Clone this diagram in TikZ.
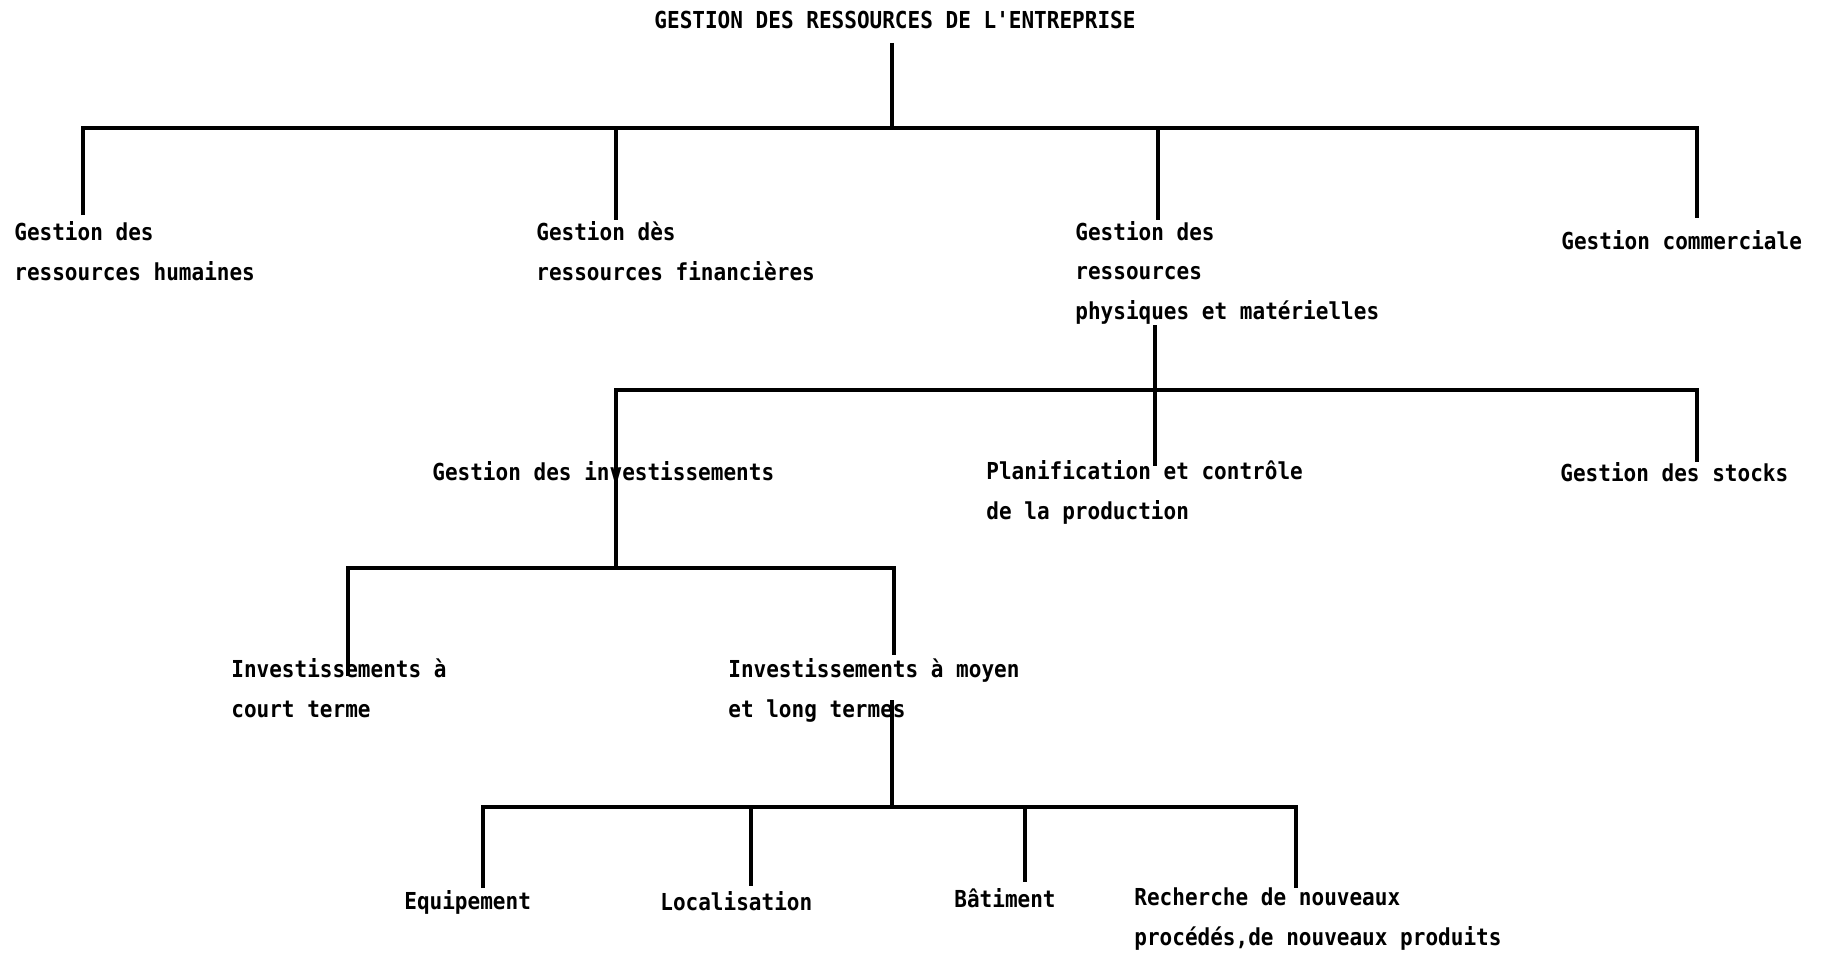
\documentclass[tikz,border=0pt]{standalone}
\usepackage{fontspec}
\setmonofont[FakeStretch=0.9]{DejaVu Sans Mono}
\usepackage{tikz}

\newcommand{\etiq}{\ttfamily\bfseries\fontsize{13.3}{22.4}\selectfont}
\tikzset{
	lbl/.style={font=\etiq,align=left,anchor=base west,inner sep=0pt},
	trait/.style={line width=1.8pt}
}

\begin{document}
\begin{tikzpicture}[x=0.02cm,y=-0.02cm]
	\useasboundingbox (0,0) rectangle (1823,953);

	% textes (base = derniere ligne)
	\node (titre) [font=\etiq,anchor=base,inner sep=0pt] at (895,29) {GESTION DES RESSOURCES DE L'ENTREPRISE};
	\node (hum) [lbl] at (14,280) {Gestion des\\ressources humaines};
	\node (fin) [lbl] at (536,280) {Gestion dès\\ressources financières};
	\node (phys) [lbl] at (1075,319) {Gestion des\\ressources\\physiques et matérielles};
	\node (com) [lbl] at (1561,249) {Gestion commerciale};
	\node (inv) [lbl] at (432,480) {Gestion des investissements};
	\node (plan) [lbl] at (986,519) {Planification et contrôle\\de la production};
	\node (stk) [lbl] at (1560,481) {Gestion des stocks};
	\node (court) [lbl] at (231,717) {Investissements à\\court terme};
	\node (moy) [lbl] at (728,717) {Investissements à moyen\\et long termes};
	\node (equ) [lbl] at (404,909) {Equipement};
	\node (loc) [lbl] at (660,910) {Localisation};
	\node (bat) [lbl] at (954,907) {Bâtiment};
	\node (rech) [lbl] at (1134,945) {Recherche de nouveaux\\procédés,de nouveaux produits};

	% points d'attache
	\coordinate (t0) at (892,43);
	\coordinate (j0) at (892,128);
	\coordinate (hum-t) at (83,215);
	\coordinate (fin-t) at (616,220);
	\coordinate (phys-t) at (1158,220);
	\coordinate (com-t) at (1697,218);
	\coordinate (p0) at (1155,325);
	\coordinate (j1) at (1155,390);
	\coordinate (plan-t) at (1155,466);
	\coordinate (inv-t) at (616,568);
	\coordinate (stk-t) at (1697,462);
	\coordinate (court-t) at (348,676);
	\coordinate (moy-t) at (894,655);
	\coordinate (m0) at (892,700);
	\coordinate (j3) at (892,807);
	\coordinate (equ-t) at (483,888);
	\coordinate (loc-t) at (751,886);
	\coordinate (bat-t) at (1025,882);
	\coordinate (rech-t) at (1296,888);

	% niveau 1
	\draw[trait] (t0) -- (j0);
	\draw[trait] (hum-t) -- (hum-t |- j0) -- (com-t |- j0) -- (com-t);
	\draw[trait] (fin-t |- j0) -- (fin-t);
	\draw[trait] (phys-t |- j0) -- (phys-t);

	% niveau 2
	\draw[trait] (p0) -- (plan-t);
	\draw[trait] (inv-t) -- (inv-t |- j1) -- (stk-t |- j1) -- (stk-t);

	% niveau 3
	\draw[trait] (court-t) -- (court-t |- inv-t) -- (moy-t |- inv-t) -- (moy-t);

	% niveau 4
	\draw[trait] (m0) -- (j3);
	\draw[trait] (equ-t) -- (equ-t |- j3) -- (rech-t |- j3) -- (rech-t);
	\draw[trait] (loc-t |- j3) -- (loc-t);
	\draw[trait] (bat-t |- j3) -- (bat-t);
\end{tikzpicture}
\end{document}
